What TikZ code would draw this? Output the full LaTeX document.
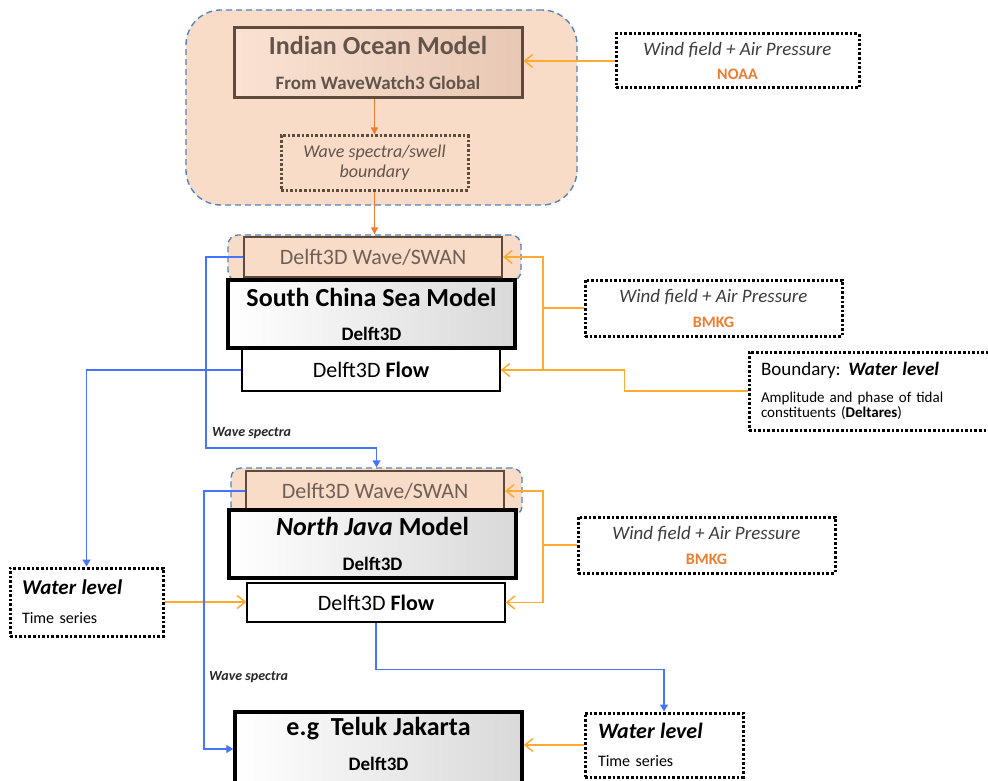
\documentclass[tikz,border=0pt]{standalone}
\usepackage{fontspec}
\setmainfont{Carlito}
\usetikzlibrary{arrows.meta,calc}
\newcommand{\fsz}[2]{\fontsize{#1}{#2}\selectfont}
\definecolor{peach}{RGB}{249,220,200}
\definecolor{peachL}{RGB}{250,226,210}
\definecolor{peachD}{RGB}{232,200,180}
\definecolor{brownln}{RGB}{94,75,60}
\definecolor{browntx}{RGB}{98,84,74}
\definecolor{swantx}{RGB}{110,96,86}
\definecolor{contblue}{RGB}{84,130,190}
\definecolor{orgA}{RGB}{237,125,49}
\definecolor{orgB}{RGB}{255,170,50}
\definecolor{lineblue}{RGB}{70,115,255}
\definecolor{windtx}{RGB}{60,60,60}
\begin{document}
\begin{tikzpicture}[x=1pt,y=-1pt,
  cont/.style={draw=contblue, line width=1.4pt, dash pattern=on 6pt off 4pt, fill=peach, inner sep=0pt},
  indianbox/.style={draw=brownln, line width=3pt, left color=peachL, right color=peachD, text=browntx, align=center, inner sep=0pt},
  dotbox/.style={draw=black, line width=3pt, dash pattern=on 2.6pt off 2pt, align=center, inner sep=0pt},
  swanbox/.style={draw=brownln, line width=2pt, fill=peach, text=swantx, font=\fsz{22}{26}, inner sep=0pt},
  modelbox/.style={draw=black, line width=3.5pt, left color=white, right color=black!15, align=center, inner sep=0pt},
  flowbox/.style={draw=black, line width=1.3pt, fill=white, font=\fsz{22}{26}, inner sep=0pt},
  lbl/.style={font=\fsz{14}{16}\bfseries\itshape, text=black!85, inner sep=0pt},
  oarrA/.style={draw=orgA, line width=1.3pt, -{Triangle[length=7pt,width=7pt]}},
  olineB/.style={draw=orgB, line width=1.5pt},
  oarrB/.style={draw=orgB, line width=1.5pt, -{Straight Barb[length=8pt,width=13pt]}},
  barr/.style={draw=lineblue, line width=1.4pt, -{Triangle[length=7pt,width=8pt]}}
]
\useasboundingbox (0,0) rectangle (988,781);
\clip (0,0) rectangle (988,781);

% ---------- Indian Ocean section ----------
\node[cont, rounded corners=35pt, minimum width=391pt, minimum height=195pt] (cont1) at (381.5,107.5) {};
\node[indianbox, minimum width=288pt, minimum height=70pt, font=\fsz{19}{35}\bfseries] (indian) at (378,63)
  {{\fsz{26}{35}Indian Ocean Model}\\From WaveWatch3 Global};
\node[dotbox, draw=brownln, text=browntx, font=\fsz{18}{20}\itshape, minimum width=187pt, minimum height=54pt] (spectra) at (374.5,163)
  {Wave spectra/swell\\boundary};
\node[dotbox, font=\fsz{16}{24}, minimum width=243pt, minimum height=54pt] (noaa) at (737.5,61)
  {{\fsz{19}{24}\itshape\color{windtx}Wind field + Air Pressure}\\{\bfseries\color{orgA}NOAA}};

% ---------- South China Sea section ----------
\node[cont, rounded corners=10pt, minimum width=293pt, minimum height=46pt] (cont2) at (374.5,258) {};
\node[swanbox, minimum width=258pt, minimum height=40pt] (swan1) at (373,257) {Delft3D Wave/SWAN};
\node[modelbox, minimum width=287pt, minimum height=68pt, font=\fsz{19}{34}\bfseries] (scs) at (371.5,314)
  {{\fsz{26}{34}South China Sea Model}\\Delft3D};
\node[flowbox, minimum width=258pt, minimum height=42pt] (flow1) at (371,370) {Delft3D \textbf{Flow}};
\node[dotbox, font=\fsz{16}{25}, minimum width=257pt, minimum height=56pt] (bmkg1) at (713.5,308)
  {{\fsz{19}{25}\itshape\color{windtx}Wind field + Air Pressure}\\{\bfseries\color{orgA}BMKG}};
\node[dotbox, align=left, text width=227pt, inner xsep=12pt, minimum height=78pt, font=\fsz{15}{15.5}] (bound) at (874.5,391)
  {{\fsz{19}{15.5}Boundary: \textbf{\textit{Water level}}}\\[11pt]Amplitude and phase of tidal\\constituents (\textbf{Deltares})};

% ---------- North Java section ----------
\node[cont, rounded corners=10pt, minimum width=291pt, minimum height=48pt] (cont3) at (376.5,492) {};
\node[swanbox, minimum width=258pt, minimum height=40pt] (swan2) at (375,491) {Delft3D Wave/SWAN};
\node[modelbox, minimum width=287pt, minimum height=68pt, font=\fsz{19}{35}\bfseries] (nj) at (372.5,544)
  {{\fsz{26}{35}\textit{North Java} Model}\\Delft3D};
\node[flowbox, minimum width=258pt, minimum height=39pt] (flow2) at (376,602.5) {Delft3D \textbf{Flow}};
\node[dotbox, font=\fsz{16}{25}, minimum width=257pt, minimum height=56pt] (bmkg2) at (706.5,545)
  {{\fsz{19}{25}\itshape\color{windtx}Wind field + Air Pressure}\\{\bfseries\color{orgA}BMKG}};
\node[dotbox, align=left, text width=129pt, inner xsep=12pt, minimum height=68pt, font=\fsz{16}{29}] (wl1) at (86.5,602)
  {{\fsz{21}{29}\bfseries\itshape Water level}\\Time series};

% ---------- Teluk Jakarta ----------
\node[modelbox, minimum width=287pt, minimum height=74pt] (teluk) at (378.5,749) {};
\node[font=\fsz{19}{35}\bfseries, align=center, inner sep=0pt] (telukt) at (378.5,744)
  {{\fsz{26}{35}e.g\ \ Teluk Jakarta}\\Delft3D};
\node[dotbox, align=left, text width=132pt, inner xsep=13pt, minimum height=64pt, font=\fsz{16}{28}] (wl2) at (664,745)
  {{\fsz{22}{28}\bfseries\itshape Water level}\\Time series};

% ---------- labels ----------
\node[lbl, anchor=west] (ws1) at (212,433) {Wave spectra};
\node[lbl, anchor=west] (ws2) at (209,677) {Wave spectra};

% ---------- orange connectors ----------
\draw[oarrA] (spectra.north |- indian.south) -- (spectra.north);
\draw[oarrA] (spectra.south) -- (spectra.south |- cont2.north);
\draw[oarrB] (noaa.west) -- (noaa.west -| indian.east);

\coordinate (j1) at (543,308);
\draw[olineB] (bmkg1.west) -- (j1);
\draw[oarrB] (j1) |- (swan1.east);
\draw[oarrB] (j1) |- (flow1.east);
\draw[olineB] (bound.west) -- ++(-123,0) |- (flow1.east);

\coordinate (j2) at (543,545);
\draw[olineB] (bmkg2.west) -- (j2);
\draw[oarrB] (j2) |- (swan2.east);
\draw[oarrB] (j2) |- (flow2.east);
\draw[oarrB] (wl1.east) -- (wl1.east -| flow2.west);
\draw[oarrB] (wl2.west) -- (wl2.west -| teluk.east);

% ---------- blue connectors ----------
\draw[barr] (swan1.west) -- ++(-37,0) -- ++(0,191) -| (cont3.north);
\draw[barr] (flow1.west) -| (wl1.north);
\draw[barr] (swan2.west) -- ++(-41,0) |- (teluk.west);
\draw[barr] (flow2.south) -- ++(0,47) -| (wl2.north);
\end{tikzpicture}
\end{document}
